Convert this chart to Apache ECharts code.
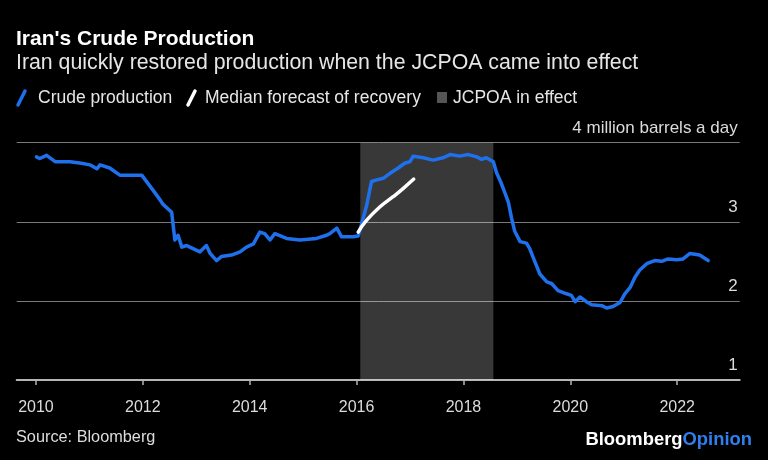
<!DOCTYPE html>
<html>
<head>
<meta charset="utf-8">
<script src="https://cdn.jsdelivr.net/npm/echarts@6/dist/echarts.min.js"></script>
<style>
html,body{margin:0;padding:0;background:#000;}
#c{width:768px;height:460px;}
</style>
</head>
<body>
<div id="c"></div>
<script>
// Crude production (million barrels a day), decimal years
const crudeYears = [2010.01,2010.07,2010.20,2010.36,2010.64,2010.85,2011.01,2011.14,2011.20,2011.38,2011.57,2011.91,2011.98,2012.19,2012.32,2012.38,2012.54,2012.60,2012.66,2012.73,2012.82,2012.88,2013.07,2013.19,2013.26,2013.38,2013.47,2013.66,2013.82,2013.94,2014.07,2014.19,2014.28,2014.38,2014.47,2014.69,2014.94,2015.25,2015.44,2015.50,2015.63,2015.72,2015.94,2016.03,2016.06,2016.19,2016.28,2016.38,2016.50,2016.62,2016.78,2016.90,2017.00,2017.06,2017.25,2017.43,2017.62,2017.75,2017.93,2018.09,2018.25,2018.34,2018.43,2018.56,2018.62,2018.70,2018.78,2018.84,2018.90,2018.96,2019.06,2019.18,2019.24,2019.34,2019.43,2019.56,2019.65,2019.77,2019.93,2020.02,2020.09,2020.18,2020.30,2020.40,2020.59,2020.68,2020.80,2020.93,2021.02,2021.12,2021.21,2021.30,2021.43,2021.58,2021.71,2021.83,2021.99,2022.11,2022.24,2022.42,2022.58];
const crudeValues = [3.82,3.80,3.84,3.76,3.76,3.74,3.72,3.67,3.72,3.68,3.59,3.59,3.59,3.40,3.28,3.22,3.12,2.77,2.83,2.68,2.70,2.68,2.62,2.70,2.60,2.51,2.56,2.58,2.62,2.68,2.72,2.87,2.85,2.77,2.85,2.79,2.77,2.79,2.83,2.85,2.92,2.81,2.81,2.82,2.89,3.21,3.51,3.53,3.55,3.61,3.68,3.74,3.76,3.83,3.81,3.78,3.81,3.85,3.83,3.85,3.82,3.79,3.81,3.76,3.62,3.50,3.36,3.25,3.05,2.88,2.75,2.73,2.66,2.49,2.34,2.24,2.22,2.13,2.09,2.07,1.99,2.05,1.99,1.95,1.94,1.91,1.93,1.98,2.09,2.17,2.30,2.39,2.47,2.51,2.50,2.53,2.52,2.53,2.60,2.58,2.51];
// Median forecast of recovery
const forecastYears = [2016.03,2016.19,2016.44,2016.69,2016.87,2017.07];
const forecastValues = [2.87,3.02,3.19,3.32,3.42,3.54];
// JCPOA in effect period
const jcpoaStart = 2016.07;
const jcpoaEnd = 2018.56;
// Tick labels
const xTicks = [2010,2012,2014,2016,2018,2020,2022];
const yTopLabel = '4 million barrels a day';

const chart = echarts.init(document.getElementById('c'), null, {renderer:'canvas'});
const FONT = 'Liberation Sans, Arial, sans-serif';
const BLUE = '#1f70ec';

const option = {
  backgroundColor:'#000',
  animation:false,
  grid:{left:16.7, right:28.3, top:142.7, bottom:80},
  xAxis:{
    type:'value', min:2009.64, max:2023.17,
    axisLine:{show:true, lineStyle:{color:'#b5b5b5', width:2}},
    axisTick:{show:true, customValues:xTicks, length:5, lineStyle:{color:'#b5b5b5', width:1.5}},
    axisLabel:{customValues:xTicks, color:'#dcdcdc', fontFamily:FONT, fontSize:16, margin:20,
      formatter:v=>String(Math.round(v))},
    splitLine:{show:false}
  },
  yAxis:{
    type:'value', position:'right', min:1, max:4, interval:1,
    axisLine:{show:false}, axisTick:{show:false},
    axisLabel:{inside:true, margin:2, color:'#dcdcdc', fontFamily:FONT, fontSize:17,
      verticalAlign:'bottom', align:'right', padding:[0,0,6,0],
      formatter:v=> v===4 ? yTopLabel : String(v)},
    splitLine:{show:true, lineStyle:{color:'#7a7a7a', width:1}}
  },
  series:[
    {
      type:'line', name:'Crude production',
      data: crudeYears.map((y,i)=>[y, crudeValues[i]]),
      showSymbol:false, lineStyle:{color:BLUE, width:3.5, join:'round', cap:'round'},
      z:3,
      markArea:{silent:true, itemStyle:{color:'rgba(255,255,255,0.22)'},
        data:[[{xAxis:jcpoaStart},{xAxis:jcpoaEnd}]]}
    },
    {
      type:'line', name:'Median forecast of recovery',
      data: forecastYears.map((y,i)=>[y, forecastValues[i]]),
      showSymbol:false, smooth:true, lineStyle:{color:'#ffffff', width:3.5, cap:'round'},
      z:4
    }
  ],
  graphic:[
    {type:'text', left:16, top:29, style:{text:"Iran's Crude Production", fill:'#fff', font:'bold 21px '+FONT}},
    {type:'text', left:16, top:53, style:{text:'Iran quickly restored production when the JCPOA came into effect', fill:'#e6e6e6', font:'21.3px '+FONT}},
    {type:'line', shape:{x1:18, y1:105, x2:25, y2:91}, style:{stroke:BLUE, lineWidth:3.5, lineCap:'round'}},
    {type:'text', left:38, top:89, style:{text:'Crude production', fill:'#e6e6e6', font:'17.5px '+FONT}},
    {type:'line', shape:{x1:188, y1:105, x2:195, y2:91}, style:{stroke:'#fff', lineWidth:3.5, lineCap:'round'}},
    {type:'text', left:205, top:89, style:{text:'Median forecast of recovery', fill:'#e6e6e6', font:'17.5px '+FONT}},
    {type:'rect', shape:{x:437, y:92, width:10, height:11}, style:{fill:'#555555'}},
    {type:'text', left:453, top:89, style:{text:'JCPOA in effect', fill:'#e6e6e6', font:'17.5px '+FONT}},
    {type:'text', left:16, top:430, style:{text:'Source: Bloomberg', fill:'#dcdcdc', font:'16.3px '+FONT}},
    {type:'text', right:16, top:431, style:{
      text:'{a|Bloomberg}{b|Opinion}',
      rich:{a:{fill:'#ffffff', font:'bold 18.4px '+FONT}, b:{fill:'#2f7ff0', font:'bold 18.4px '+FONT}}
    }}
  ]
};
chart.setOption(option);
</script>
</body>
</html>
